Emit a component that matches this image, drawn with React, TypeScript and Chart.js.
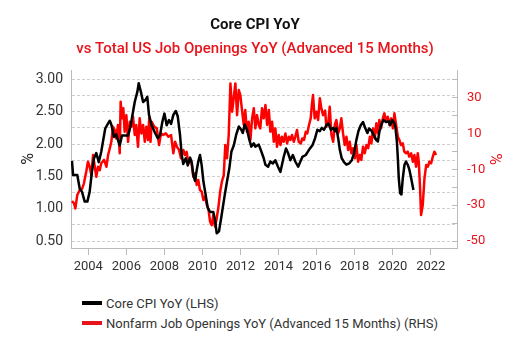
import React, { useEffect, useRef } from "react";
import { Chart, registerables } from "chart.js";

Chart.register(...registerables);

const TITLE = "Core CPI YoY";
const SUBTITLE = "vs Total US Job Openings YoY (Advanced 15 Months)";
const CPI_LABEL = "Core CPI YoY (LHS)";
const JOB_LABEL = "Nonfarm Job Openings YoY (Advanced 15 Months) (RHS)";

const RED = "#e8141c";

const xTicks = [2004, 2006, 2008, 2010, 2012, 2014, 2016, 2018, 2020, 2022];
const leftTicks = [0.5, 0.75, 1.0, 1.25, 1.5, 1.75, 2.0, 2.25, 2.5, 2.75, 3.0];
const leftLabelled = [0.5, 1.0, 1.5, 2.0, 2.5, 3.0];
const rightTicks = [-50, -40, -30, -20, -10, 0, 10, 20, 30, 40];
const rightLabelled = [-50, -30, -10, 10, 30];

const cpiDates = [
  2003.14, 2003.2, 2003.42, 2003.55, 2003.67, 2003.81, 2003.95, 2004.07, 2004.19, 2004.3,
  2004.42, 2004.55, 2004.68, 2004.77, 2004.89, 2005.04, 2005.13, 2005.21, 2005.35, 2005.47,
  2005.56, 2005.65, 2005.77, 2006.09, 2006.23, 2006.35, 2006.44, 2006.58, 2006.65, 2006.76,
  2006.88, 2007.0, 2007.1, 2007.19, 2007.33, 2007.51, 2007.65, 2007.77, 2007.89, 2008.0,
  2008.12, 2008.24, 2008.35, 2008.47, 2008.6, 2008.7, 2008.82, 2008.91, 2008.99, 2009.12,
  2009.23, 2009.35, 2009.44, 2009.52, 2009.61, 2009.7, 2009.78, 2009.87, 2009.96, 2010.05,
  2010.17, 2010.28, 2010.4, 2010.57, 2010.66, 2010.75, 2010.87, 2010.98, 2011.17, 2011.29,
  2011.41, 2011.52, 2011.65, 2011.77, 2011.91, 2012.04, 2012.12, 2012.22, 2012.34, 2012.47,
  2012.57, 2012.7, 2012.78, 2012.96, 2013.1, 2013.22, 2013.31, 2013.45, 2013.57, 2013.7,
  2013.83, 2013.97, 2014.1, 2014.18, 2014.27, 2014.39, 2014.5, 2014.62, 2014.75, 2014.88,
  2015.03, 2015.25, 2015.43, 2015.6, 2015.78, 2015.92, 2016.04, 2016.17, 2016.27, 2016.39,
  2016.51, 2016.62, 2016.75, 2016.87, 2016.97, 2017.04, 2017.15, 2017.22, 2017.32, 2017.44,
  2017.57, 2017.71, 2017.85, 2017.97, 2018.09, 2018.2, 2018.32, 2018.44, 2018.55, 2018.67,
  2018.76, 2018.9, 2019.02, 2019.14, 2019.22, 2019.3, 2019.39, 2019.51, 2019.65, 2019.8,
  2019.86, 2019.97, 2020.09, 2020.14, 2020.22, 2020.27, 2020.32, 2020.39, 2020.46, 2020.53,
  2020.62, 2020.7, 2020.79, 2020.88, 2020.97, 2021.09,
];
const cpiValues = [
  1.74, 1.52, 1.52, 1.31, 1.26, 1.11, 1.11, 1.26, 1.57, 1.78,
  1.86, 1.72, 1.88, 2.04, 2.24, 2.32, 2.36, 2.3, 2.11, 2.15,
  2.06, 1.98, 2.13, 2.13, 2.29, 2.5, 2.65, 2.81, 2.94, 2.81,
  2.65, 2.68, 2.73, 2.45, 2.29, 2.17, 2.09, 2.14, 2.34, 2.47,
  2.29, 2.37, 2.31, 2.45, 2.51, 2.43, 2.14, 1.83, 1.69, 1.78,
  1.67, 1.79, 1.71, 1.52, 1.43, 1.6, 1.73, 1.83, 1.67, 1.42,
  1.21, 1.01, 0.95, 0.95, 0.83, 0.62, 0.65, 0.85, 1.21, 1.42,
  1.62, 1.88, 1.98, 2.14, 2.27, 2.22, 2.17, 2.3, 2.22, 2.06,
  1.96, 2.01, 1.96, 1.99, 1.88, 1.78, 1.68, 1.65, 1.73, 1.7,
  1.75, 1.65, 1.57, 1.68, 1.8, 1.93, 1.86, 1.75, 1.83, 1.73,
  1.65, 1.8, 1.83, 1.91, 1.98, 2.09, 2.22, 2.2, 2.25, 2.22,
  2.29, 2.32, 2.22, 2.25, 2.2, 2.25, 2.06, 1.91, 1.78, 1.72,
  1.68, 1.7, 1.75, 1.86, 2.06, 2.2, 2.29, 2.34, 2.25, 2.17,
  2.24, 2.2, 2.13, 2.06, 2.04, 2.19, 2.29, 2.37, 2.34, 2.35,
  2.29, 2.37, 2.32, 2.27, 2.04, 1.78, 1.47, 1.24, 1.22, 1.47,
  1.68, 1.73, 1.68, 1.6, 1.47, 1.29,
];

const jobDates = [
  2003.14, 2003.25, 2003.32, 2003.42, 2003.55, 2003.67, 2003.77, 2003.89, 2003.98, 2004.07,
  2004.16, 2004.25, 2004.34, 2004.42, 2004.51, 2004.6, 2004.68, 2004.83, 2004.95, 2005.04,
  2005.13, 2005.21, 2005.3, 2005.39, 2005.47, 2005.56, 2005.65, 2005.7, 2005.77, 2005.84,
  2005.91, 2006.0, 2006.09, 2006.18, 2006.26, 2006.35, 2006.44, 2006.52, 2006.61, 2006.7,
  2006.79, 2006.88, 2006.97, 2007.05, 2007.14, 2007.2, 2007.27, 2007.33, 2007.47, 2007.6,
  2007.72, 2007.82, 2007.94, 2008.07, 2008.21, 2008.35, 2008.47, 2008.56, 2008.66, 2008.77,
  2008.87, 2009.0, 2009.08, 2009.17, 2009.26, 2009.4, 2009.52, 2009.61, 2009.7, 2009.78,
  2009.87, 2009.96, 2010.05, 2010.14, 2010.23, 2010.31, 2010.4, 2010.49, 2010.57, 2010.66,
  2010.75, 2010.84, 2010.93, 2011.02, 2011.12, 2011.2, 2011.29, 2011.38, 2011.47, 2011.56,
  2011.64, 2011.73, 2011.82, 2011.91, 2011.99, 2012.08, 2012.17, 2012.25, 2012.34, 2012.43,
  2012.52, 2012.61, 2012.7, 2012.78, 2012.87, 2012.96, 2013.04, 2013.13, 2013.22, 2013.31,
  2013.4, 2013.49, 2013.57, 2013.66, 2013.75, 2013.83, 2013.92, 2014.01, 2014.1, 2014.18,
  2014.27, 2014.36, 2014.45, 2014.54, 2014.62, 2014.71, 2014.8, 2014.88, 2014.97, 2015.06,
  2015.17, 2015.25, 2015.34, 2015.43, 2015.51, 2015.6, 2015.69, 2015.75, 2015.81, 2015.9,
  2015.99, 2016.08, 2016.17, 2016.25, 2016.34, 2016.45, 2016.51, 2016.62, 2016.69, 2016.78,
  2016.87, 2016.96, 2017.04, 2017.13, 2017.22, 2017.3, 2017.39, 2017.48, 2017.57, 2017.66,
  2017.74, 2017.83, 2017.92, 2018.01, 2018.09, 2018.18, 2018.27, 2018.35, 2018.44, 2018.53,
  2018.62, 2018.71, 2018.8, 2018.88, 2018.97, 2019.06, 2019.14, 2019.23, 2019.3, 2019.39,
  2019.48, 2019.56, 2019.65, 2019.74, 2019.83, 2019.92, 2020.01, 2020.09, 2020.18, 2020.27,
  2020.35, 2020.44, 2020.53, 2020.61, 2020.7, 2020.79, 2020.87, 2020.97, 2021.06, 2021.14,
  2021.23, 2021.32, 2021.37, 2021.44, 2021.49, 2021.58, 2021.67, 2021.76, 2021.85, 2021.93,
  2022.02, 2022.11, 2022.19, 2022.28,
];
const jobValues = [
  -27.7, -29.0, -31.8, -24.3, -21.5, -20.9, -17.8, -11.3, -5.7, -8.5,
  -13.2, -2.0, -8.5, -14.1, -8.5, -10.4, -6.6, -4.7, -8.5, -2.0,
  1.8, 5.4, 13.8, 11.9, 7.3, 14.8, -1.0, 27.8, 18.5, 24.1,
  11.0, 20.3, 5.4, 16.6, 13.8, 19.4, 9.2, 14.8, 2.6, 18.5,
  10.1, 14.8, 5.4, 13.8, 6.4, 18.5, 5.4, 16.6, 13.8, 12.9,
  3.6, 10.1, 9.2, 10.1, 8.2, 9.2, -1.0, 5.4, 2.6, 0.8,
  -3.8, 0.8, -2.0, -0.2, -6.6, -4.7, -14.1, -12.2, -18.7, -15.9,
  -21.5, -22.4, -27.1, -25.2, -29.9, -31.8, -39.2, -41.1, -35.5, -42.0,
  -37.3, -30.9, -22.5, -16.9, -13.2, 3.6, -3.8, 9.2, 38.0, 22.2,
  29.7, 38.0, 20.3, 34.3, 31.5, 23.1, 14.8, 23.1, 11.0, 16.6,
  6.4, 18.5, 24.1, 12.9, 20.3, 14.8, 12.9, 24.1, 18.5, 25.9,
  14.8, 23.1, 11.0, 16.6, 5.4, 12.9, 2.6, 9.2, 3.6, 8.2,
  5.4, 10.1, 4.5, 8.2, 6.4, 9.2, 5.4, 8.2, 12.0, 5.4,
  4.5, 7.3, 6.4, 11.0, 10.1, 14.8, 18.5, 25.9, 31.5, 18.5,
  22.2, 17.6, 29.7, 24.1, 20.3, 22.8, 13.8, 16.6, 25.0, 9.2,
  5.4, 14.8, 17.6, 10.1, 12.9, 18.5, 10.1, 3.6, 8.2, 0.8,
  5.4, -1.0, 1.8, -3.8, 3.6, -5.7, -2.0, -4.7, 2.6, -1.0,
  3.6, 1.8, 8.2, 4.5, 12.9, 7.3, 15.7, 10.1, 17.6, 12.9,
  18.5, 21.3, 16.6, 19.4, 14.8, 18.5, 12.9, 21.3, 14.8, 8.2,
  6.4, 3.6, 4.5, -0.1, -1.0, -0.1, -2.9, -1.0, -5.7, -2.0,
  -8.5, -1.0, -5.7, -20.6, -35.5, -29.9, -15.0, -7.6, -8.5, -5.7,
  -6.6, -2.9, -0.1, -2.0,
];

const X_MIN = 2003.09;
const X_MAX = 2023.38;
const L_MIN = 0.393;
const L_MAX = 3.144;
const R_MIN = -53.9;
const R_MAX = 45.5;

const FONT = "Roboto, 'Noto Sans', sans-serif";

export default function App() {
  const ref = useRef<HTMLCanvasElement | null>(null);

  useEffect(() => {
    if (!ref.current) return;
    const cpiData = cpiDates.map((d, i) => ({ x: d, y: cpiValues[i] }));
    const jobData = jobDates.map((d, i) => ({ x: d, y: jobValues[i] }));
    const chart = new Chart(ref.current, {
      type: "line",
      data: {
        datasets: [
          {
            label: CPI_LABEL,
            data: cpiData,
            borderColor: "#000000",
            backgroundColor: "#000000",
            borderWidth: 2.5,
            pointRadius: 0,
            tension: 0,
            yAxisID: "y",
            borderJoinStyle: "round",
          },
          {
            label: JOB_LABEL,
            data: jobData,
            borderColor: "#ff0000",
            backgroundColor: "#ff0000",
            borderWidth: 2.5,
            pointRadius: 0,
            tension: 0,
            yAxisID: "y1",
            borderJoinStyle: "round",
          },
        ],
      },
      options: {
        responsive: false,
        animation: false,
        events: [],
        layout: { padding: 0 },
        plugins: {
          legend: { display: false },
          tooltip: { enabled: false },
          title: {
            display: true,
            text: TITLE,
            color: "#111111",
            font: { family: FONT, size: 15, weight: "bold" },
            padding: { top: 8, bottom: 0 },
          },
          subtitle: {
            display: true,
            text: SUBTITLE,
            color: RED,
            font: { family: FONT, size: 15, weight: "500" },
            padding: { top: 6, bottom: 12 },
          },
        },
        scales: {
          x: {
            type: "linear",
            min: X_MIN,
            max: X_MAX,
            afterBuildTicks: (s: any) => {
              s.ticks = xTicks.map((v) => ({ value: v }));
            },
            afterFit: (s: any) => {
              s.height = 38;
            },
            ticks: {
              autoSkip: false,
              maxRotation: 0,
              color: "#333333",
              font: { family: FONT, size: 13 },
              padding: 4,
              callback: (v: any) => String(v),
            },
            grid: {
              drawOnChartArea: false,
              drawTicks: true,
              tickLength: 7,
              color: "#bbbbbb",
            },
            border: { display: true, color: "#bbbbbb" },
          },
          y: {
            type: "linear",
            position: "left",
            min: L_MIN,
            max: L_MAX,
            afterBuildTicks: (s: any) => {
              s.ticks = leftTicks.map((v) => ({ value: v }));
            },
            afterFit: (s: any) => {
              s.width = 63;
            },
            ticks: {
              autoSkip: false,
              color: "#333333",
              font: { family: FONT, size: 14 },
              padding: 8,
              callback: (v: any) =>
                leftLabelled.some((t) => Math.abs(t - v) < 1e-6) ? Number(v).toFixed(2) : "",
            },
            grid: {
              display: true,
              drawOnChartArea: true,
              drawTicks: false,
              color: "#cfcfcf",
              lineWidth: 1,
            },
            border: { display: true, color: "#bbbbbb", dash: [3, 2] },
            title: {
              display: true,
              text: "%",
              color: "#222222",
              font: { family: FONT, size: 16 },
              padding: { top: 11, bottom: 0 },
            },
          },
          y1: {
            type: "linear",
            position: "right",
            min: R_MIN,
            max: R_MAX,
            afterBuildTicks: (s: any) => {
              s.ticks = rightTicks.map((v) => ({ value: v }));
            },
            afterFit: (s: any) => {
              s.width = 45;
            },
            ticks: {
              autoSkip: false,
              color: RED,
              font: { family: FONT, size: 13 },
              padding: 15,
              callback: (v: any) =>
                rightLabelled.some((t) => Math.abs(t - v) < 1e-6) ? String(v) : "",
            },
            grid: {
              drawOnChartArea: false,
              drawTicks: true,
              tickLength: -5,
              color: "#bbbbbb",
            },
            border: { display: true, color: "#bbbbbb" },
            title: {
              display: true,
              text: "%",
              color: RED,
              font: { family: FONT, size: 16, lineHeight: 1 },
              padding: { top: 0, bottom: 0 },
            },
          },
        },
      } as any,
    });
    return () => chart.destroy();
  }, []);

  const legendItems = [
    { label: CPI_LABEL, color: "#000000" },
    { label: JOB_LABEL, color: RED },
  ];

  return (
    <div style={{ position: "relative", width: 494, height: 330, fontFamily: FONT }}>
      <canvas ref={ref} width={494} height={278} style={{ display: "block" }} />
      <div style={{ position: "absolute", left: 74, top: 285 }}>
        {legendItems.map((it) => (
          <div
            key={it.label}
            style={{ display: "flex", alignItems: "center", height: 20, whiteSpace: "nowrap" }}
          >
            <span
              style={{
                display: "inline-block",
                width: 20,
                height: 4,
                background: it.color,
                marginRight: 4,
              }}
            />
            <span style={{ fontSize: 13, color: "#333333" }}>{it.label}</span>
          </div>
        ))}
      </div>
    </div>
  );
}
